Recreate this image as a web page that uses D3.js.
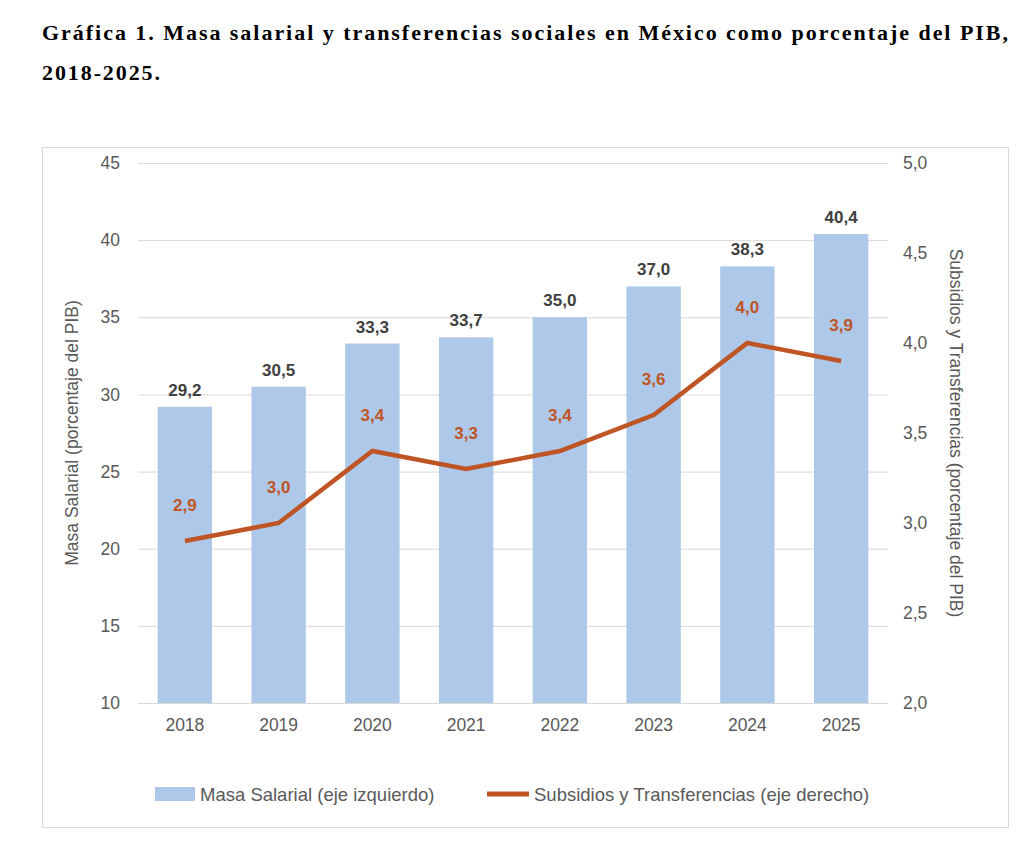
<!DOCTYPE html>
<html><head><meta charset="utf-8">
<script src="https://cdn.jsdelivr.net/npm/d3@7"></script>
<style>
body{margin:0;background:#fff;}
</style></head>
<body>
<svg id="chart" width="1024" height="842"></svg>
<script>
const years = ['2018','2019','2020','2021','2022','2023','2024','2025']
const masaSalarial = [29.2,30.5,33.3,33.7,35.0,37.0,38.3,40.4]
const subsidios = [2.9,3.0,3.4,3.3,3.4,3.6,4.0,3.9]
const leftTicks = [10,15,20,25,30,35,40,45]
const rightTicks = [2.0,2.5,3.0,3.5,4.0,4.5,5.0]

const fmt = v => v.toFixed(1).replace('.', ',')
const svg = d3.select('#chart')
const font = 'Liberation Sans, Arial, sans-serif'

// title
const title = svg.append('text').attr('font-family', 'Liberation Serif, Times New Roman, serif')
  .attr('font-weight', 'bold').attr('font-size', 22).attr('fill', '#000')
title.append('tspan').attr('x', 42).attr('y', 40)
  .attr('textLength', 966).attr('lengthAdjust', 'spacing')
  .text('Gráfica 1. Masa salarial y transferencias sociales en México como porcentaje del PIB,')
title.append('tspan').attr('x', 42).attr('y', 80)
  .attr('textLength', 118).attr('lengthAdjust', 'spacing').text('2018-2025.')

// frame
svg.append('rect').attr('x', 42.5).attr('y', 147.5).attr('width', 966).attr('height', 680)
  .attr('fill', 'none').attr('stroke', '#d9d9d9')

const x = d3.scaleBand().domain(years).range([138, 888]).paddingInner(0.42).paddingOuter(0.21)
const yL = d3.scaleLinear().domain([10, 45]).range([703, 163])
const yR = d3.scaleLinear().domain([2, 5]).range([703, 163])

// gridlines
svg.append('g').selectAll('line').data(leftTicks).join('line')
  .attr('x1', 138).attr('x2', 888).attr('y1', d => yL(d) + 0.5).attr('y2', d => yL(d) + 0.5)
  .attr('stroke', '#d9d9d9')

// bars
svg.append('g').selectAll('rect').data(masaSalarial).join('rect')
  .attr('x', (d, i) => x(years[i])).attr('width', x.bandwidth())
  .attr('y', d => yL(d)).attr('height', d => yL(10) - yL(d))
  .attr('fill', '#adc8e9')

svg.append('g').selectAll('text').data(masaSalarial).join('text')
  .attr('x', (d, i) => x(years[i]) + x.bandwidth() / 2).attr('y', d => yL(d) - 11)
  .attr('text-anchor', 'middle').attr('font-family', font).attr('font-weight', 'bold')
  .attr('font-size', 17).attr('fill', '#404040').text(fmt)

// line
const cx = i => x(years[i]) + x.bandwidth() / 2
svg.append('path').datum(subsidios)
  .attr('d', d3.line().x((d, i) => cx(i)).y(d => yR(d)))
  .attr('fill', 'none').attr('stroke', '#bf5525').attr('stroke-width', 4.5)

svg.append('g').selectAll('text').data(subsidios).join('text')
  .attr('x', (d, i) => cx(i)).attr('y', d => yR(d) - 30)
  .attr('text-anchor', 'middle').attr('font-family', font).attr('font-weight', 'bold')
  .attr('font-size', 17).attr('fill', '#bf5525').text(fmt)

// axes
const axL = svg.append('g').attr('transform', 'translate(120,0)')
  .call(d3.axisLeft(yL).tickValues(leftTicks).tickSize(0).tickPadding(0))
const axR = svg.append('g').attr('transform', 'translate(903,0)')
  .call(d3.axisRight(yR).tickValues(rightTicks).tickSize(0).tickPadding(0).tickFormat(fmt))
const axB = svg.append('g').attr('transform', 'translate(0,713)')
  .call(d3.axisBottom(x).tickSize(0).tickPadding(6))
;[axL, axR, axB].forEach(a => {
  a.select('.domain').remove()
  a.selectAll('text').attr('font-family', font).attr('font-size', 17.5).attr('fill', '#595959')
})

svg.append('text').attr('transform', 'translate(78,433) rotate(-90)').attr('text-anchor', 'middle')
  .attr('font-family', font).attr('font-size', 17.5).attr('fill', '#595959')
  .text('Masa Salarial (porcentaje del PIB)')
svg.append('text').attr('transform', 'translate(950,433) rotate(90)').attr('text-anchor', 'middle')
  .attr('font-family', font).attr('font-size', 17.5).attr('fill', '#595959')
  .text('Subsidios y Transferencias (porcentaje del PIB)')

// legend
const lg = svg.append('g').attr('font-family', font).attr('font-size', 18.5).attr('fill', '#595959')
lg.append('rect').attr('x', 155).attr('y', 787).attr('width', 40).attr('height', 14).attr('fill', '#adc8e9')
lg.append('text').attr('x', 200).attr('y', 801).text('Masa Salarial (eje izquierdo)')
lg.append('line').attr('x1', 487).attr('x2', 529).attr('y1', 794).attr('y2', 794)
  .attr('stroke', '#bf5525').attr('stroke-width', 5)
lg.append('text').attr('x', 534).attr('y', 801).text('Subsidios y Transferencias (eje derecho)')
</script>
</body></html>
